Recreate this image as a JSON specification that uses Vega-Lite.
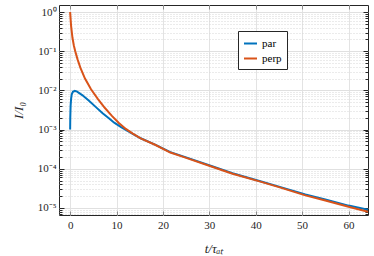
{
  "$schema": "https://vega.github.io/schema/vega-lite/v6.json",
  "autosize": "none",
  "padding": {"left": 59, "top": 5, "right": 6, "bottom": 41},
  "width": 309,
  "height": 210,
  "background": "white",
  "config": {
    "view": {"stroke": "#262626", "strokeWidth": 1},
    "font": "Liberation Serif",
    "axis": {"labelFont": "Liberation Serif", "titleFont": "Liberation Serif", "labelColor": "#262626", "titleColor": "#262626", "domain": false, "tickColor": "#262626"}
  },
  "data": {
    "values": [
      {"t": 0, "I": 0.001, "s": "par"},
      {"t": 0.03, "I": 0.002, "s": "par"},
      {"t": 0.1, "I": 0.004, "s": "par"},
      {"t": 0.2, "I": 0.006, "s": "par"},
      {"t": 0.35, "I": 0.008, "s": "par"},
      {"t": 0.6, "I": 0.0092, "s": "par"},
      {"t": 1.0, "I": 0.0097, "s": "par"},
      {"t": 1.5, "I": 0.0093, "s": "par"},
      {"t": 2.6, "I": 0.0076, "s": "par"},
      {"t": 4.0, "I": 0.0055, "s": "par"},
      {"t": 5.5, "I": 0.0038, "s": "par"},
      {"t": 7, "I": 0.0026, "s": "par"},
      {"t": 8.35, "I": 0.00195, "s": "par"},
      {"t": 9.5, "I": 0.0015, "s": "par"},
      {"t": 10.9, "I": 0.00118, "s": "par"},
      {"t": 12, "I": 0.00099, "s": "par"},
      {"t": 13.5, "I": 0.00078, "s": "par"},
      {"t": 15.2, "I": 0.0006, "s": "par"},
      {"t": 18.3, "I": 0.000415, "s": "par"},
      {"t": 21.6, "I": 0.000265, "s": "par"},
      {"t": 25, "I": 0.000195, "s": "par"},
      {"t": 30.6, "I": 0.000116, "s": "par"},
      {"t": 35, "I": 0.000077, "s": "par"},
      {"t": 41, "I": 0.000048, "s": "par"},
      {"t": 45, "I": 0.000035, "s": "par"},
      {"t": 50.7, "I": 0.000022, "s": "par"},
      {"t": 55, "I": 0.0000165, "s": "par"},
      {"t": 60, "I": 0.0000115, "s": "par"},
      {"t": 64.2, "I": 0.000009, "s": "par"},
      {"t": 0, "I": 1.0, "s": "perp"},
      {"t": 0.2, "I": 0.45, "s": "perp"},
      {"t": 0.5, "I": 0.22, "s": "perp"},
      {"t": 0.8, "I": 0.14, "s": "perp"},
      {"t": 1.1, "I": 0.1, "s": "perp"},
      {"t": 1.6, "I": 0.062, "s": "perp"},
      {"t": 2.2, "I": 0.038, "s": "perp"},
      {"t": 3.2, "I": 0.02, "s": "perp"},
      {"t": 4.5, "I": 0.0107, "s": "perp"},
      {"t": 6, "I": 0.006, "s": "perp"},
      {"t": 7.5, "I": 0.00355, "s": "perp"},
      {"t": 9, "I": 0.00224, "s": "perp"},
      {"t": 10.5, "I": 0.00148, "s": "perp"},
      {"t": 12, "I": 0.00104, "s": "perp"},
      {"t": 13.5, "I": 0.00079, "s": "perp"},
      {"t": 15.2, "I": 0.0006, "s": "perp"},
      {"t": 18.3, "I": 0.00041, "s": "perp"},
      {"t": 21.6, "I": 0.00026, "s": "perp"},
      {"t": 25, "I": 0.00019, "s": "perp"},
      {"t": 30.6, "I": 0.000113, "s": "perp"},
      {"t": 35, "I": 0.000075, "s": "perp"},
      {"t": 41, "I": 0.000047, "s": "perp"},
      {"t": 45, "I": 0.000034, "s": "perp"},
      {"t": 50.7, "I": 0.000021, "s": "perp"},
      {"t": 55, "I": 0.0000155, "s": "perp"},
      {"t": 60, "I": 0.0000107, "s": "perp"},
      {"t": 64.2, "I": 0.000008, "s": "perp"}
    ]
  },
  "resolve": {"axis": {"x": "independent", "y": "independent"}},
  "layer": [
    {
      "mark": {"type": "line", "opacity": 0},
      "encoding": {
        "x": {"field": "t", "type": "quantitative", "scale": {"domain": [-2.4, 64.2], "nice": false, "zero": false},
          "axis": {"orient": "top", "values": [0, 10, 20, 30, 40, 50, 60], "labels": false, "title": null, "grid": false, "tickSize": -4, "tickColor": "#8c8c8c"}},
        "y": {"field": "I", "type": "quantitative", "scale": {"type": "log", "domain": [0.00000662, 1.51], "nice": false},
          "axis": {"orient": "right", "labels": false, "title": null, "grid": false,
            "values": [0.000007, 0.000008, 0.000009, 0.00001, 0.00002, 0.00003, 0.00004, 0.00005, 0.00006, 0.00007, 0.00008, 0.00009, 0.0001, 0.0002, 0.0003, 0.0004, 0.0005, 0.0006, 0.0007, 0.0008, 0.0009, 0.001, 0.002, 0.003, 0.004, 0.005, 0.006, 0.007, 0.008, 0.009, 0.01, 0.02, 0.03, 0.04, 0.05, 0.06, 0.07, 0.08, 0.09, 0.1, 0.2, 0.3, 0.4, 0.5, 0.6, 0.7, 0.8, 0.9, 1],
            "tickSize": {"condition": {"test": "abs(log(datum.value)/LN10 - round(log(datum.value)/LN10)) < 1e-6", "value": -5}, "value": -3}}},
        "detail": {"field": "s"}
      }
    },
    {
      "mark": {"type": "line", "strokeWidth": 2},
      "encoding": {
        "x": {"field": "t", "type": "quantitative",
          "axis": {"orient": "bottom", "values": [0, 10, 20, 30, 40, 50, 60], "format": "d", "labelFontSize": 11, "labelPadding": 8,
            "grid": true, "gridColor": "#e3e3e3", "tickSize": -4, "tickColor": "#8c8c8c",
            "title": "t/τₐₜ", "titleFontSize": 13, "titleFontWeight": "normal", "titleFontStyle": "italic", "titlePadding": 12}},
        "y": {"field": "I", "type": "quantitative",
          "axis": {"orient": "left",
            "values": [0.000007, 0.000008, 0.000009, 0.00001, 0.00002, 0.00003, 0.00004, 0.00005, 0.00006, 0.00007, 0.00008, 0.00009, 0.0001, 0.0002, 0.0003, 0.0004, 0.0005, 0.0006, 0.0007, 0.0008, 0.0009, 0.001, 0.002, 0.003, 0.004, 0.005, 0.006, 0.007, 0.008, 0.009, 0.01, 0.02, 0.03, 0.04, 0.05, 0.06, 0.07, 0.08, 0.09, 0.1, 0.2, 0.3, 0.4, 0.5, 0.6, 0.7, 0.8, 0.9, 1],
            "labelExpr": "datum.value == 1 ? '10⁰' : datum.value == 0.1 ? '10⁻¹' : datum.value == 0.01 ? '10⁻²' : datum.value == 0.001 ? '10⁻³' : datum.value == 0.0001 ? '10⁻⁴' : datum.value == 0.00001 ? '10⁻⁵' : ''",
            "labelFontSize": 11, "labelPadding": 8,
            "grid": true,
            "gridColor": {"condition": {"test": "abs(log(datum.value)/LN10 - round(log(datum.value)/LN10)) < 1e-6", "value": "#e0e0e0"}, "value": "#d6d6d6"},
            "gridDash": {"condition": {"test": "abs(log(datum.value)/LN10 - round(log(datum.value)/LN10)) < 1e-6", "value": []}, "value": [1, 2]},
            "tickSize": {"condition": {"test": "abs(log(datum.value)/LN10 - round(log(datum.value)/LN10)) < 1e-6", "value": -5}, "value": -3},
            "title": "I/I₀", "titleFontSize": 13, "titleFontWeight": "normal", "titleFontStyle": "italic", "titlePadding": 12}},
        "color": {"field": "s", "type": "nominal",
          "scale": {"domain": ["par", "perp"], "range": ["#0072BD", "#D95319"]},
          "legend": {"orient": "none", "legendX": 179, "legendY": 26, "title": null, "fillColor": "white", "strokeColor": "#262626",
            "padding": 5, "symbolType": "stroke", "symbolStrokeWidth": 2, "symbolSize": 169, "labelFont": "Liberation Serif", "labelFontSize": 11, "rowPadding": 2, "labelOffset": 4}}
      }
    }
  ]
}
